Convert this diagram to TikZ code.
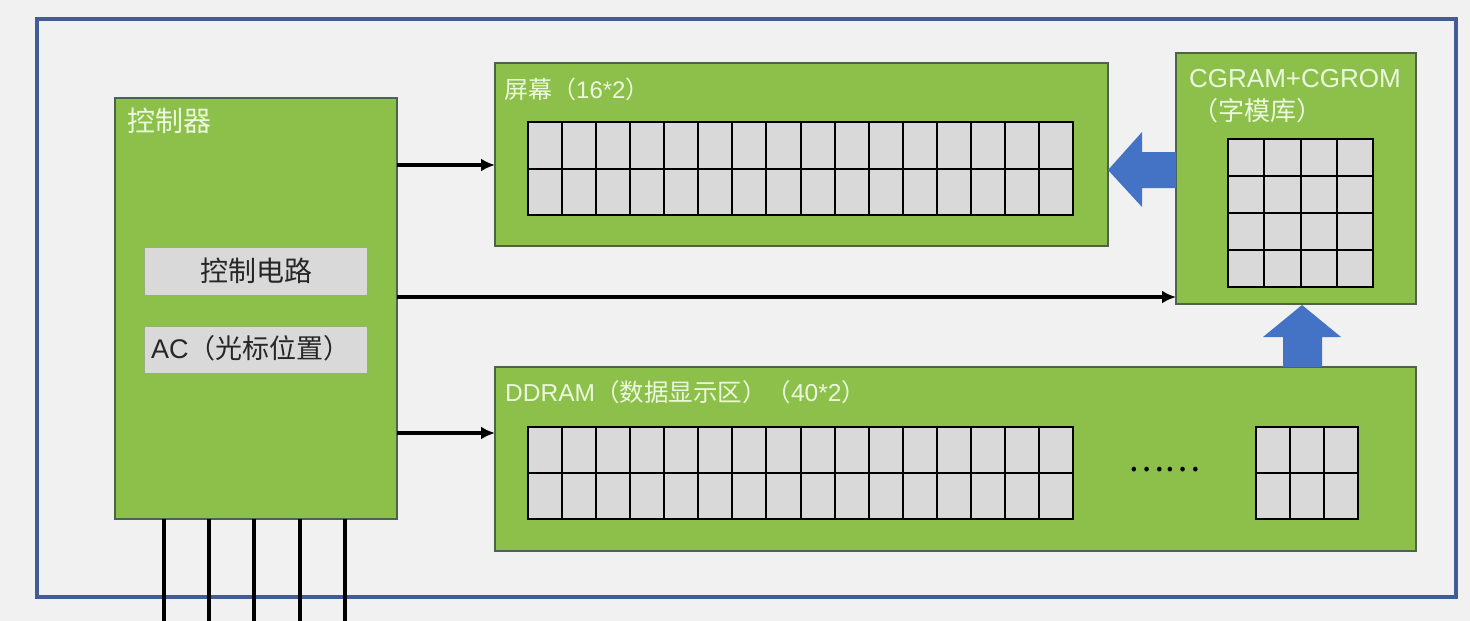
\documentclass[tikz,border=0pt]{standalone}
\usepackage{fontspec}
\setmainfont{Liberation Sans}
\newfontfamily\cjk{Noto Sans CJK SC}
\usetikzlibrary{arrows.meta,calc}
\definecolor{bg}{RGB}{241,241,241}
\definecolor{framec}{RGB}{66,92,150}
\definecolor{grn}{RGB}{140,192,74}
\definecolor{grnline}{RGB}{78,100,74}
\definecolor{cellc}{RGB}{217,217,217}
\definecolor{grayline}{RGB}{150,175,125}
\definecolor{pale}{RGB}{236,248,222}
\definecolor{ink}{RGB}{38,38,38}
\definecolor{blu}{RGB}{68,114,196}
\begin{document}
\begin{tikzpicture}[x=1pt,y=-1pt,
  greenbox/.style={draw=grnline,line width=1.5pt,fill=grn,inner sep=0pt,outer sep=0pt,anchor=north west},
  graybox/.style={draw=grayline,line width=1pt,fill=cellc,inner sep=0pt,outer sep=0pt,anchor=north west},
  lbl/.style={text=pale,inner sep=0pt,anchor=base west},
  arr/.style={line width=3.5pt,-{Latex[length=14pt,width=13pt]}},
  gridline/.style={line width=2pt,draw=black},
  bus/.style={line width=3.5pt,draw=black},
  blockarrow/.style={fill=blu}]
\useasboundingbox (0,0) rectangle (1470,621);
\fill[bg] (0,0) rectangle (1470,621);
% outer frame
\draw[framec,line width=3.5pt] (37,19) rectangle (1456,597);

% controller
\node[greenbox,minimum width=282pt,minimum height=421pt] (ctrl) at (115,98) {};
\node[lbl,font=\fontsize{28}{30}\selectfont\cjk] (ctrlT) at (127,131) {控制器};
\node[graybox,minimum width=223pt,minimum height=48pt] (circ) at (144,247) {};
\node[text=ink,inner sep=0pt,anchor=base,font=\fontsize{28}{30}\selectfont\cjk] (circT) at (256,281) {控制电路};
\node[graybox,minimum width=223pt,minimum height=47pt] (ac) at (144,326) {};
\node[text=ink,inner sep=0pt,anchor=base west,font=\fontsize{27}{30}\selectfont] (acT) at (151,358) {AC{\cjk （光标位置）}};

% screen
\node[greenbox,minimum width=613pt,minimum height=183pt] (scr) at (495,63) {};
\node[lbl,font=\fontsize{24}{28}\selectfont] (scrT) at (504,98) {{\cjk 屏幕（}16*2{\cjk ）}};
\fill[cellc] (528,122) rectangle (1073,215);
\foreach \i in {1,...,15} \draw[gridline] ({528+\i*34.0625},122) -- ({528+\i*34.0625},215);
\draw[gridline] (528,168.5) -- (1073,168.5);
\draw[gridline] (528,122) rectangle (1073,215);

% CGRAM + CGROM
\node[greenbox,minimum width=240pt,minimum height=251pt] (cg) at (1176,53) {};
\node[lbl,font=\fontsize{26}{30}\selectfont] (cgT) at (1189,87) {CGRAM+CGROM};
\node[lbl,font=\fontsize{26}{30}\selectfont\cjk] (cgT2) at (1192,120) {（字模库）};
\fill[cellc] (1228,139) rectangle (1373,287);
\foreach \i in {1,2,3} \draw[gridline] ({1228+\i*36.25},139) -- ({1228+\i*36.25},287);
\foreach \j in {1,2,3} \draw[gridline] (1228,{139+\j*37}) -- (1373,{139+\j*37});
\draw[gridline] (1228,139) rectangle (1373,287);

% DDRAM
\node[greenbox,minimum width=921pt,minimum height=184pt] (dd) at (495,367) {};
\node[lbl,font=\fontsize{24.5}{28}\selectfont] (ddT) at (505,401) {DDRAM{\cjk （数据显示区）（}40*2{\cjk ）}};
\fill[cellc] (528,427) rectangle (1073,519);
\foreach \i in {1,...,15} \draw[gridline] ({528+\i*34.0625},427) -- ({528+\i*34.0625},519);
\draw[gridline] (528,473) -- (1073,473);
\draw[gridline] (528,427) rectangle (1073,519);
\node[text=black,inner sep=0pt,anchor=center,font=\fontsize{34}{40}\selectfont\cjk] (dots) at (1164,470) {……};
\fill[cellc] (1256,427) rectangle (1358,519);
\foreach \i in {1,2} \draw[gridline] ({1256+\i*34},427) -- ({1256+\i*34},519);
\draw[gridline] (1256,473) -- (1358,473);
\draw[gridline] (1256,427) rectangle (1358,519);

% block arrows
\fill[blockarrow] (cg.west |- 0,152) -- (1142,152) -- (1142,132) -- (scr.east |- 0,170) -- (1142,207) -- (1142,188) -- (cg.west |- 0,188) -- cycle;
\fill[blockarrow] (1283,367) -- (1283,337) -- (1263,337) -- (1302,305) -- (1341,337) -- (1322,337) -- (1322,367) -- cycle;

% connectors
\coordinate (a1) at ($(ctrl.north east)+(0,67)$);
\coordinate (a2) at ($(ctrl.north east)+(0,199)$);
\coordinate (a3) at ($(ctrl.north east)+(0,335)$);
\draw[arr] (a1) -- (a1 -| scr.west);
\draw[arr] (a2) -- (a2 -| cg.west);
\draw[arr] (a3) -- (a3 -| dd.west);

% bus lines
\foreach \dx/\n in {49/1,94/2,139/3,185/4,230/5}{
  \coordinate (b\n) at ($(ctrl.south west)+(\dx,0)$);
  \draw[bus] (b\n) -- ++(0,102);
}
\end{tikzpicture}
\end{document}
